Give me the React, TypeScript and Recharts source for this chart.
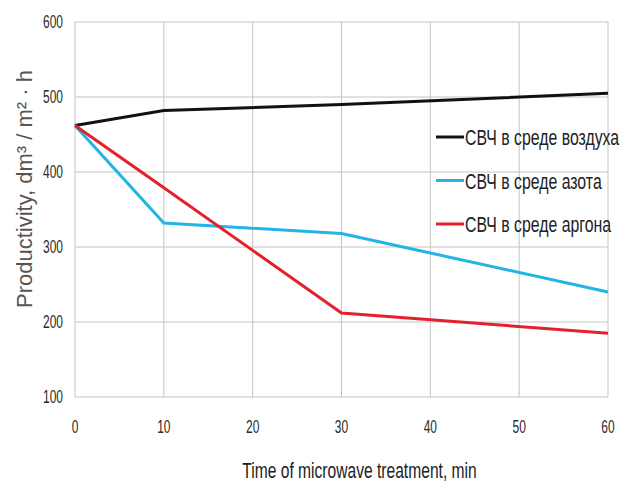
import { LineChart, Line, XAxis, YAxis, CartesianGrid } from "recharts";

// время обработки, мин
const times = [0, 10, 30, 60];
// производительность по средам
const air = [462, 482, 490, 505];
const nitrogen = [462, 332, 318, 240];
const argon = [462, 379, 212, 185];

const xTicks = [0, 10, 20, 30, 40, 50, 60];
const yTicks = [100, 200, 300, 400, 500, 600];

const seriesDefs = [
  { key: "air", name: "СВЧ в среде воздуха", color: "#111111" },
  { key: "nitrogen", name: "СВЧ в среде азота", color: "#22b4e4" },
  { key: "argon", name: "СВЧ в среде аргона", color: "#e5202c" },
];

const data = times.map((t, i) => ({
  t,
  air: air[i],
  nitrogen: nitrogen[i],
  argon: argon[i],
}));

const FONT = "'Liberation Sans', Arial, sans-serif";

// узкий шрифт имитируем сжатием по горизонтали
const XTick = ({ x, y, payload }: any) => (
  <g transform={`translate(${x},${y})`}>
    <text transform="scale(0.63,1)" textAnchor="middle" dy={30} fill="#2a2a2a" fontSize={19} fontFamily={FONT}>
      {payload.value}
    </text>
  </g>
);

const YTick = ({ x, y, payload }: any) => (
  <g transform={`translate(${x},${y})`}>
    <text transform="scale(0.63,1)" textAnchor="end" dy={6} fill="#2a2a2a" fontSize={19} fontFamily={FONT}>
      {payload.value}
    </text>
  </g>
);

const XTitle = ({ viewBox }: any) => {
  const cx = viewBox.x + viewBox.width / 2 + 18;
  return (
    <g transform={`translate(${cx},478)`}>
      <text transform="scale(0.71,1)" textAnchor="middle" fill="#222" fontSize={22} fontFamily={FONT}>
        Time of microwave treatment, min
      </text>
    </g>
  );
};

const YTitle = () => (
  <text
    transform="translate(32,189) rotate(-90)"
    textAnchor="middle"
    fill="#555"
    fontSize={22}
    fontFamily={FONT}
  >
    Productivity, dm³ / m² · h
  </text>
);

const LegendBlock = () => (
  <g>
    {seriesDefs.map((s, i) => {
      const cy = 137 + i * 43.5;
      return (
        <g key={s.key}>
          <line x1={436} x2={464} y1={cy} y2={cy} stroke={s.color} strokeWidth={3} />
          <g transform={`translate(465,${cy + 8})`}>
            <text transform="scale(0.72,1)" fill="#222" fontSize={22} fontFamily={FONT}>
              {s.name}
            </text>
          </g>
        </g>
      );
    })}
  </g>
);

export default function App() {
  return (
    <div style={{ position: "absolute", left: 0, top: 0, width: 630, height: 483, background: "#fff" }}>
      <LineChart width={630} height={483} data={data} margin={{ top: 22, right: 22, bottom: 26, left: 0 }}>
        <CartesianGrid stroke="#c4c4c4" strokeWidth={1} />
        <XAxis
          dataKey="t"
          type="number"
          domain={[0, 60]}
          ticks={xTicks}
          axisLine={false}
          tickLine={false}
          tickMargin={0}
          tick={<XTick />}
          height={60}
          label={<XTitle />}
        />
        <YAxis
          type="number"
          domain={[100, 600]}
          ticks={yTicks}
          axisLine={false}
          tickLine={false}
          tickMargin={6}
          width={75}
          tick={<YTick />}
          label={<YTitle />}
        />
        {seriesDefs.map((s) => (
          <Line
            key={s.key}
            type="linear"
            dataKey={s.key}
            name={s.name}
            stroke={s.color}
            strokeWidth={3}
            dot={false}
            activeDot={false}
            isAnimationActive={false}
          />
        ))}
        <LegendBlock />
      </LineChart>
    </div>
  );
}
